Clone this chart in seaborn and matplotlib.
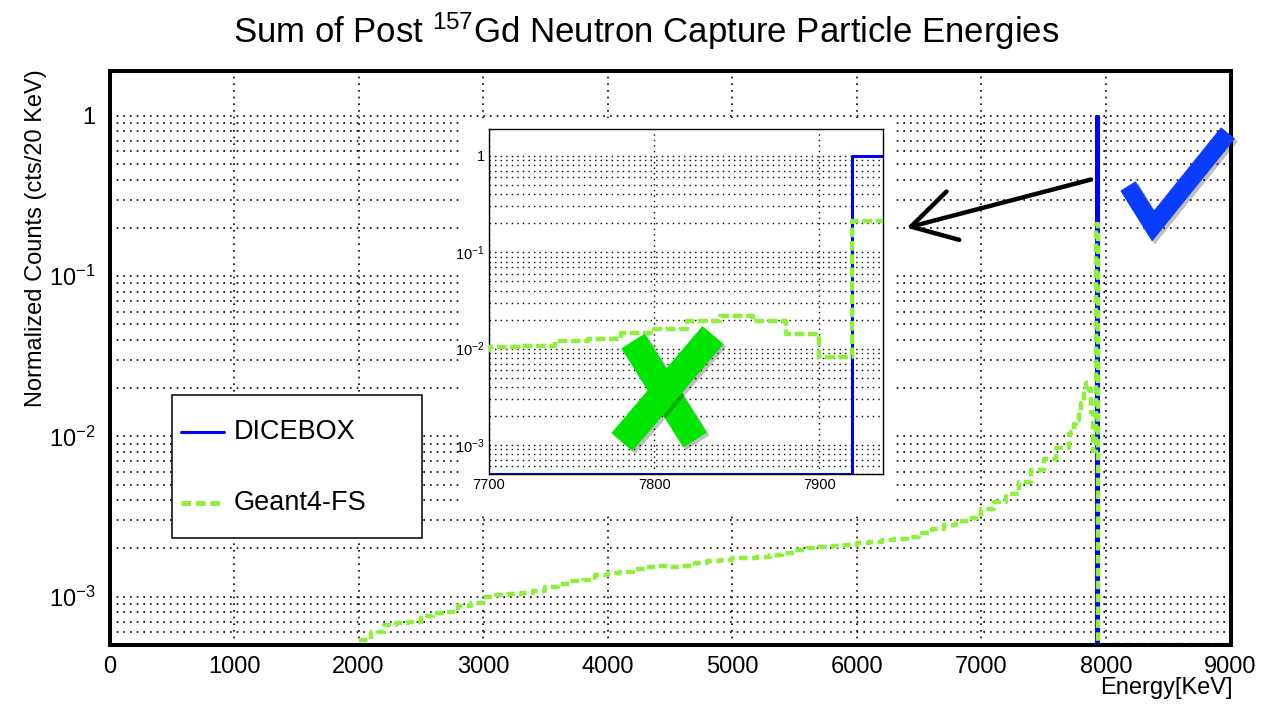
import numpy as np
import pandas as pd
import matplotlib
matplotlib.use("Agg")
import matplotlib.pyplot as plt
from matplotlib.lines import Line2D
from matplotlib.patches import Rectangle
from matplotlib.ticker import FixedLocator, FixedFormatter, LogLocator, MultipleLocator, NullFormatter
import matplotlib.patheffects as pe
import seaborn as sns

# ---------------------------------------------------------------- data
# Geant4-FS summed energy spectrum, coarse part: 100 keV steps from 2000 keV
g4_coarse_start = 2000
g4_coarse_width = 100
g4_coarse_counts = [
    5.4e-4, 6.0e-4, 6.7e-4, 6.9e-4, 7.0e-4, 7.6e-4, 7.9e-4, 8.0e-4, 8.8e-4, 9.2e-4,
    1.00e-3, 1.02e-3, 1.04e-3, 1.06e-3, 1.08e-3, 1.15e-3, 1.20e-3, 1.25e-3, 1.28e-3, 1.36e-3,
    1.40e-3, 1.43e-3, 1.48e-3, 1.54e-3, 1.55e-3, 1.54e-3, 1.56e-3, 1.63e-3, 1.66e-3, 1.70e-3,
    1.74e-3, 1.74e-3, 1.78e-3, 1.83e-3, 1.88e-3, 1.97e-3, 2.00e-3, 2.03e-3, 2.07e-3, 2.10e-3,
    2.15e-3, 2.20e-3, 2.25e-3, 2.30e-3, 2.35e-3, 2.50e-3, 2.65e-3, 2.80e-3, 2.95e-3, 3.10e-3,
    3.50e-3, 3.90e-3, 4.40e-3, 5.20e-3, 6.20e-3, 7.20e-3, 8.50e-3,
]
# Geant4-FS near the capture line: 20 keV bins from 7700 keV
g4_fine_start = 7700
g4_fine_width = 20
g4_fine_counts = [1.03e-2, 1.07e-2, 1.19e-2, 1.27e-2, 1.45e-2, 1.61e-2,
                  1.95e-2, 2.16e-2, 1.95e-2, 1.41e-2, 8.1e-3, 0.211]
# DICEBOX: everything in the single 7920-7940 keV bin
dicebox_edges = [0, 7920, 7940, 9000]
dicebox_counts = [0.0, 1.0, 0.0]

series_labels = ["DICEBOX", "Geant4-FS"]
y_tick_values = [1e-3, 1e-2, 1e-1, 1.0]
y_tick_labels = [r"$10^{-3}$", r"$10^{-2}$", r"$10^{-1}$", "1"]
x_main_ticks = list(range(0, 9001, 1000))
x_inset_ticks = [7700, 7800, 7900]

E_MAX = 9000
Y_MIN, Y_MAX = 5.0e-4, 1.9

# ---------------------------------------------------------------- style
sns.set_theme(style="white")
FONT = "Liberation Sans"
plt.rcParams["font.family"] = [FONT, "DejaVu Sans"]
plt.rcParams["text.color"] = "black"
plt.rcParams["mathtext.fontset"] = "custom"
plt.rcParams["mathtext.rm"] = FONT
plt.rcParams["mathtext.it"] = FONT + ":italic"
plt.rcParams["mathtext.bf"] = FONT + ":bold"
plt.rcParams["mathtext.sf"] = FONT

BLUE = "#0000ff"
GREEN = "#8cf03c"
W, H = 1272, 707


def fx(x):
    return x / W


def fy(y):
    return 1 - y / H


def step_frame(edges, counts):
    """Histogram outline points for a steps-post line, zero bins sit on the axis floor."""
    y = np.maximum(np.asarray(counts, float), Y_MIN)
    return pd.DataFrame({"energy": np.asarray(edges, float), "counts": np.append(y, y[-1])})


coarse_edges = g4_coarse_start + g4_coarse_width * np.arange(len(g4_coarse_counts))
fine_edges = g4_fine_start + g4_fine_width * np.arange(len(g4_fine_counts) + 1)
g4_edges = np.concatenate([coarse_edges, fine_edges, [E_MAX]])
g4_counts = list(g4_coarse_counts) + list(g4_fine_counts) + [0.0]

g4_df = step_frame(g4_edges, g4_counts)
dice_df = step_frame(dicebox_edges, dicebox_counts)

GRID = dict(color="black", linestyle=(0, (1, 3)), linewidth=1.2)

fig = plt.figure(figsize=(W / 100, H / 100), dpi=100)
fig.patch.set_facecolor("white")

# ---------------------------------------------------------------- main panel
ax = fig.add_axes([fx(109.5), fy(645), fx(1230.5) - fx(109.5), fy(71) - fy(645)])
sns.lineplot(data=dice_df, x="energy", y="counts", ax=ax, drawstyle="steps-post",
             estimator=None, sort=False, color=BLUE, linewidth=2.2, zorder=3)
sns.lineplot(data=g4_df, x="energy", y="counts", ax=ax, drawstyle="steps-post",
             estimator=None, sort=False, color=GREEN, linewidth=3.2,
             linestyle=(0, (1.9, 1.0)), zorder=4)
ax.set_yscale("log")
ax.set_xlim(0, E_MAX)
ax.set_ylim(Y_MIN, Y_MAX)
ax.set_xlabel("")
ax.set_ylabel("")
ax.xaxis.set_major_locator(FixedLocator(x_main_ticks))
ax.xaxis.set_minor_locator(MultipleLocator(200))
ax.yaxis.set_major_locator(FixedLocator(y_tick_values))
ax.yaxis.set_major_formatter(FixedFormatter(y_tick_labels))
ax.yaxis.set_minor_locator(LogLocator(base=10, subs=np.arange(2, 10)))
ax.yaxis.set_minor_formatter(NullFormatter())
ax.tick_params(axis="both", which="both", direction="in", color="black", width=1.4,
               labelsize=17, labelcolor="black")
ax.tick_params(axis="x", which="major", length=17, pad=8)
ax.tick_params(axis="x", which="minor", length=8.5)
ax.tick_params(axis="y", which="major", length=24, pad=10)
ax.tick_params(axis="y", which="minor", length=12)
ax.grid(True, axis="y", which="both", **GRID)
ax.grid(True, axis="x", which="major", **GRID)
ax.set_axisbelow(True)
for s in ax.spines.values():
    s.set_visible(True)
    s.set_color("black")
    s.set_linewidth(2.9)
    s.set_zorder(6)
ax.set_facecolor("white")

fig.text(fx(646), fy(31), r"Sum of Post $^{157}$Gd Neutron Capture Particle Energies",
         ha="center", va="center", fontsize=25)
fig.text(fx(36), fy(238), "Normalized Counts (cts/20 KeV)", rotation=90,
         ha="center", va="center", fontsize=17)
fig.text(fx(1233), fy(688), "Energy[KeV]", ha="right", va="center", fontsize=17)

# arrow from the capture line towards the inset
ax.annotate("", xy=(6400, 0.20), xytext=(7880, 0.40),
            arrowprops=dict(arrowstyle="->,head_length=2.6,head_width=1.5",
                            color="black", lw=3.2, shrinkA=0, shrinkB=0), zorder=7)

# ---------------------------------------------------------------- legend box
fig.add_artist(Rectangle((fx(172), fy(538)), fx(422) - fx(172), fy(395) - fy(538),
                         transform=fig.transFigure, facecolor="white",
                         edgecolor="black", linewidth=1.1, zorder=1))
fig.add_artist(Line2D([fx(181), fx(224)], [fy(432)] * 2, transform=fig.transFigure,
                      color=BLUE, linewidth=2.2, zorder=2))
fig.add_artist(Line2D([fx(181), fx(224)], [fy(503)] * 2, transform=fig.transFigure,
                      color=GREEN, linewidth=3.6, linestyle=(0, (1.9, 1.0)), zorder=2))
fig.text(fx(234), fy(432), series_labels[0], ha="left", va="center", fontsize=19.5, zorder=2)
fig.text(fx(234), fy(503), series_labels[1], ha="left", va="center", fontsize=19.5, zorder=2)

# ---------------------------------------------------------------- inset panel
fig.add_artist(Rectangle((fx(460), fy(515)), fx(895) - fx(460), fy(118) - fy(515),
                         transform=fig.transFigure, facecolor="white",
                         edgecolor="none", zorder=1))
axi = fig.add_axes([fx(489), fy(474), fx(883) - fx(489), fy(129) - fy(474)], zorder=3)
sns.lineplot(data=dice_df, x="energy", y="counts", ax=axi, drawstyle="steps-post",
             estimator=None, sort=False, color=BLUE, linewidth=2.2, zorder=3)
sns.lineplot(data=g4_df, x="energy", y="counts", ax=axi, drawstyle="steps-post",
             estimator=None, sort=False, color=GREEN, linewidth=3.2,
             linestyle=(0, (2.2, 0.8)), zorder=4)
axi.set_yscale("log")
axi.set_xlim(7700, 7938.5)
axi.set_ylim(Y_MIN, Y_MAX)
axi.set_xlabel("")
axi.set_ylabel("")
axi.xaxis.set_major_locator(FixedLocator(x_inset_ticks))
axi.xaxis.set_minor_locator(MultipleLocator(50))
axi.yaxis.set_major_locator(FixedLocator(y_tick_values))
axi.yaxis.set_major_formatter(FixedFormatter(y_tick_labels))
axi.yaxis.set_minor_locator(LogLocator(base=10, subs=np.arange(2, 10)))
axi.yaxis.set_minor_formatter(NullFormatter())
axi.tick_params(axis="both", which="both", direction="in", color="black", width=0.8,
                labelsize=10.5, labelcolor="black", pad=3)
axi.tick_params(axis="both", which="major", length=7)
axi.tick_params(axis="both", which="minor", length=3.5)
axi.grid(True, axis="y", which="both", color="black", linestyle=(0, (1, 3)), linewidth=1.0)
axi.grid(True, axis="x", which="major", color="black", linestyle=(0, (1, 3)), linewidth=1.0)
axi.set_axisbelow(True)
for s in axi.spines.values():
    s.set_visible(True)
    s.set_color("black")
    s.set_linewidth(1.0)
axi.set_facecolor("white")

# ---------------------------------------------------------------- hand-drawn marks
shadow = [pe.SimpleLineShadow(offset=(2, -2), shadow_color="black", alpha=0.25), pe.Normal()]
for (x0, y0), (x1, y1) in [((633, 341), (695, 440)), ((713, 335), (622, 442))]:
    fig.add_artist(Line2D([fx(x0), fx(x1)], [fy(y0), fy(y1)], transform=fig.transFigure,
                          color="#00e600", linewidth=20, solid_capstyle="butt",
                          path_effects=shadow, zorder=8))
fig.add_artist(Line2D([fx(1128), fx(1153), fx(1228)], [fy(186), fy(226), fy(133)],
                      transform=fig.transFigure, color="#0a3cff", linewidth=13,
                      solid_capstyle="butt", solid_joinstyle="miter",
                      path_effects=shadow, zorder=8))

fig.savefig("out.png", dpi=100, facecolor="white")
